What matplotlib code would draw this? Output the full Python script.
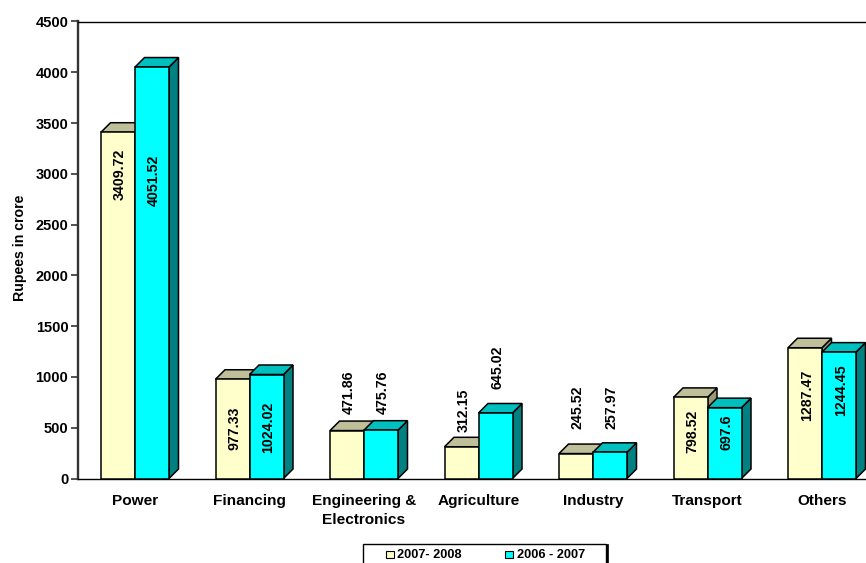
import matplotlib
matplotlib.use("Agg")
import matplotlib.pyplot as plt
from matplotlib.patches import Polygon, Rectangle

plt.rcParams['font.family'] = ['Liberation Sans', 'DejaVu Sans']
plt.rcParams['font.weight'] = 'bold'

#data
categories = ["Power", "Financing", "Engineering &\nElectronics", "Agriculture", "Industry", "Transport", "Others"]
vals_0708 = [3409.72, 977.33, 471.86, 312.15, 245.52, 798.52, 1287.47]
vals_0607 = [4051.52, 1024.02, 475.76, 645.02, 257.97, 697.6, 1244.45]
labels_0708 = ["3409.72", "977.33", "471.86", "312.15", "245.52", "798.52", "1287.47"]
labels_0607 = ["4051.52", "1024.02", "475.76", "645.02", "257.97", "697.6", "1244.45"]
#where the rotated labels sit, in rupees (they were placed by hand in the original)
label_y_0708 = [2998, 497, 852, 675, 704, 468, 822]
label_y_0607 = [2939, 507, 852, 1098, 704, 458, 871]
yticks = [0, 500, 1000, 1500, 2000, 2500, 3000, 3500, 4000, 4500]

W, H = 866, 563
fig = plt.figure(figsize=(W/100, H/100), dpi=100)
ax = fig.add_axes([78/W, 1-478.5/H, (W-78)/W, 457/H])

step = 114.5  #pixels between groups
bar_w = 34/step
dx = 9.5/step
dy = 9.5*4500/457

ax.set_xlim(-57/step, (W-135)/step)
ax.set_ylim(0, 4500)


def bar3d(x, v, front, top, side):
    #x is left edge of the front face
    ax.add_patch(Polygon([(x+bar_w, 0), (x+bar_w+dx, dy), (x+bar_w+dx, v+dy), (x+bar_w, v)],
                         fc=side, ec='black', lw=1.1, zorder=3, clip_on=False))
    ax.add_patch(Polygon([(x, v), (x+dx, v+dy), (x+bar_w+dx, v+dy), (x+bar_w, v)],
                         fc=top, ec='black', lw=1.1, zorder=3, clip_on=False))
    ax.bar(x, v, bar_w, align='edge', color=front, edgecolor='black', lw=1.1, zorder=3)


for i in range(len(categories)):
    bar3d(i-bar_w, vals_0708[i], '#FFFFCC', '#BFBF99', '#999973')
    bar3d(i, vals_0607[i], '#00FFFF', '#00BFBF', '#008080')
    ax.text(i-bar_w/2+0.015, label_y_0708[i], labels_0708[i], rotation=90, ha='center', va='center',
            fontsize=10.2, zorder=5)
    ax.text(i+bar_w/2+0.015, label_y_0607[i], labels_0607[i], rotation=90, ha='center', va='center',
            fontsize=10.2, zorder=5)

ax.set_xticks(range(len(categories)))
ax.set_xticklabels(categories, fontsize=11.1, linespacing=1.5)
ax.tick_params(axis='x', length=0, pad=11)
ax.set_yticks(yticks)
ax.tick_params(axis='y', length=5, width=1.2, color='#333333', labelsize=10.5, pad=2)

for s in ['right']:
    ax.spines[s].set_visible(False)
ax.spines['left'].set_linewidth(1.7)
ax.spines['left'].set_color('#333333')
ax.spines['top'].set_linewidth(1)
ax.spines['bottom'].set_linewidth(1)

fig.text(20/W, 1-248/H, "Rupees in crore", rotation=90, ha='center', va='center', fontsize=10.2)

#legend box runs off the bottom of the picture
fig.add_artist(Rectangle((363/W, -10/H), 243/W, (H-544+10)/H, transform=fig.transFigure,
                         fc='white', ec='black', lw=1))
fig.add_artist(Rectangle((606/W, -10/H), 2/W, (H-544+10)/H, transform=fig.transFigure,
                         fc='black', ec='black', lw=0.5))
fig.add_artist(Rectangle((386/W, 1-558/H), 8/W, 7/H, transform=fig.transFigure,
                         fc='#FFFFCC', ec='black', lw=0.8))
fig.add_artist(Rectangle((505/W, 1-558/H), 8/W, 7/H, transform=fig.transFigure,
                         fc='#00FFFF', ec='black', lw=0.8))
fig.text(397/W, 1-555/H, "2007- 2008", va='center', fontsize=9.2)
fig.text(517/W, 1-555/H, "2006 - 2007", va='center', fontsize=9.2)

fig.savefig("out.png", dpi=100)
